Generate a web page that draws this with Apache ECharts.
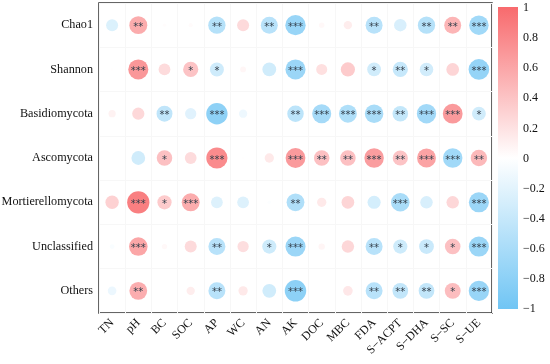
<!DOCTYPE html>
<html>
<head>
<meta charset="utf-8">
<script src="https://cdn.jsdelivr.net/npm/echarts@6/dist/echarts.min.js"></script>
<style>html,body{margin:0;padding:0;background:#fff}#c{width:550px;height:364px}</style>
</head>
<body>
<div id="c"></div>
<script>
var columns = ['TN','pH','BC','SOC','AP','WC','AN','AK','DOC','MBC','FDA','S\u2212ACPT','S\u2212DHA','S\u2212SC','S\u2212UE'];
var rows = ['Chao1','Shannon','Basidiomycota','Ascomycota','Mortierellomycota','Unclassified','Others'];

var chao1 = [-0.25,0.56,0.02,0.03,-0.52,0.25,-0.5,-0.72,0.05,0.12,-0.5,-0.27,-0.52,0.5,-0.66];
var shannon = [0.01,0.7,0.24,0.4,-0.34,0.06,-0.33,-0.7,0.21,0.35,-0.33,-0.4,-0.32,0.28,-0.74];
var basidiomycota = [0.09,0.26,-0.44,-0.22,-0.79,-0.12,0.0,-0.47,-0.63,-0.56,-0.6,-0.42,-0.65,0.68,-0.33];
var ascomycota = [0.0,-0.33,0.42,0.24,0.78,0.01,0.15,0.68,0.42,0.42,0.66,0.4,0.62,-0.66,0.47];
var mortierellomycota = [0.31,0.86,0.35,0.56,-0.24,-0.24,-0.02,-0.55,0.15,0.28,-0.3,-0.6,-0.27,0.27,-0.7];
var unclassified = [-0.04,0.6,0.05,0.25,-0.5,0.22,-0.35,-0.7,0.07,0.27,-0.5,-0.35,-0.38,0.42,-0.7];
var others = [-0.13,0.55,0.0,0.12,-0.5,0.15,-0.33,-0.8,0.01,0.16,-0.5,-0.43,-0.43,0.44,-0.72];

var chao1Sig = ['','**','','','**','','**','***','','','**','','**','**','***'];
var shannonSig = ['','***','','*','*','','','***','','','*','**','*','','***'];
var basidiomycotaSig = ['','','**','','***','','','**','***','***','***','**','***','***','*'];
var ascomycotaSig = ['','','*','','***','','','***','**','**','***','**','***','***','**'];
var mortierellomycotaSig = ['','***','*','***','','','','**','','','','***','','','***'];
var unclassifiedSig = ['','***','','','**','','*','***','','','**','*','*','*','***'];
var othersSig = ['','**','','','**','','','***','','','**','**','**','*','***'];

var colorTicks = [-1,-0.8,-0.6,-0.4,-0.2,0,0.2,0.4,0.6,0.8,1];

var valueRows = [chao1, shannon, basidiomycota, ascomycota, mortierellomycota, unclassified, others];
var sigRows = [chao1Sig, shannonSig, basidiomycotaSig, ascomycotaSig, mortierellomycotaSig, unclassifiedSig, othersSig];

var data = [];
valueRows.forEach(function (vals, ri) {
  vals.forEach(function (v, ci) {
    data.push([ci, ri, v, sigRows[ri][ci]]);
  });
});

var NEG = '#70C5F4', MID = '#ffffff', POS = '#F86A6D';
var chart = echarts.init(document.getElementById('c'), null, {renderer: 'canvas'});
var serif = 'Liberation Serif';
chart.setOption({
  animation: false,
  backgroundColor: '#fff',
  grid: [
    {left: 99, right: 58, top: 3, bottom: 51, show: true, borderColor: '#333', borderWidth: 1.5, backgroundColor: 'transparent', outerBoundsMode: 'none', containLabel: false},
    {left: 498, width: 20, top: 8, height: 301, outerBoundsMode: 'none', containLabel: false}
  ],
  xAxis: [
    {
      type: 'category', data: columns, gridIndex: 0,
      axisLine: {show: false}, axisTick: {show: false},
      splitLine: {show: true, lineStyle: {color: '#f7f7f7', width: 1}},
      axisLabel: {rotate: 45, fontFamily: serif, fontSize: 12, color: '#111', margin: 8, interval: 0}
    },
    {type: 'value', gridIndex: 1, show: false}
  ],
  yAxis: [
    {
      type: 'category', data: rows, gridIndex: 0, inverse: true,
      axisLine: {show: false}, axisTick: {show: false},
      splitLine: {show: true, lineStyle: {color: '#f7f7f7', width: 1}},
      axisLabel: {fontFamily: serif, fontSize: 12.2, color: '#111', margin: 6}
    },
    {
      type: 'value', gridIndex: 1, min: -1, max: 1, interval: 0.2, position: 'right',
      axisLine: {show: false}, axisTick: {show: false}, splitLine: {show: false},
      axisLabel: {
        fontFamily: serif, fontSize: 12, color: '#111', margin: 5,
        formatter: function (v) {
          var r = Math.round(v * 10) / 10;
          return r < 0 ? '\u2212' + Math.abs(r) : String(r);
        }
      }
    }
  ],
  visualMap: {
    type: 'continuous', min: -1, max: 1, dimension: 2, seriesIndex: 0,
    show: false,
    inRange: {color: [NEG, MID, POS]}
  },
  graphic: [
    {
      type: 'rect', left: 498, top: 7, silent: true,
      shape: {width: 20, height: 302},
      style: {
        fill: new echarts.graphic.LinearGradient(0, 0, 0, 1, [
          {offset: 0, color: POS}, {offset: 0.5, color: MID}, {offset: 1, color: NEG}
        ])
      }
    }
  ],
  series: [
    {
      type: 'scatter', xAxisIndex: 0, yAxisIndex: 0,
      data: data,
      symbol: 'circle',
      symbolSize: function (d) { return 24 * Math.sqrt(Math.abs(d[2])); },
      itemStyle: {opacity: 1},
      label: {
        show: true, position: 'inside',
        formatter: function (p) { return p.data[3]; },
        fontFamily: 'DejaVu Sans', fontSize: 10, color: '#34404c', offset: [0, 2]
      },
      emphasis: {disabled: true}
    },
    {
      type: 'scatter', xAxisIndex: 1, yAxisIndex: 1, data: [], silent: true
    }
  ]
});
</script>
</body>
</html>
